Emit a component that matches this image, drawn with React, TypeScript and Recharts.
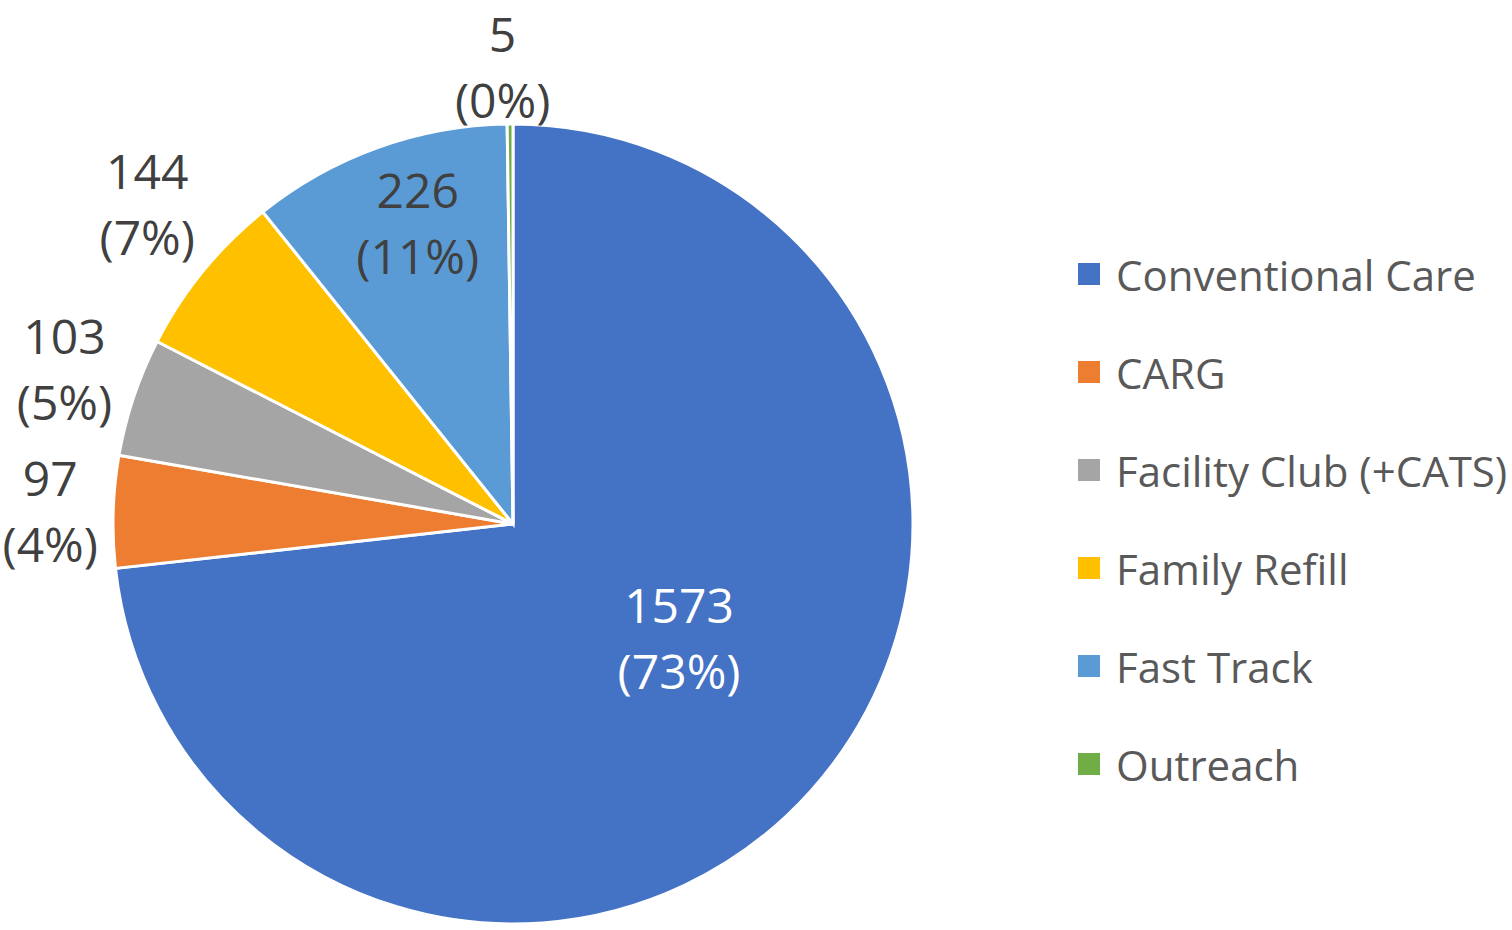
import React from "react";
import { Cell, Legend, Pie, PieChart } from "recharts";

const categories = ["Conventional Care", "CARG", "Facility Club (+CATS)", "Family Refill", "Fast Track", "Outreach"];
const counts = [1573, 97, 103, 144, 226, 5];
const percentLabels = ["73%", "4%", "5%", "7%", "11%", "0%"];
const colors = ["#4472C4", "#ED7D31", "#A5A5A5", "#FFC000", "#5B9BD5", "#70AD47"];

const data = categories.map((name, i) => ({ name, value: counts[i], pct: percentLabels[i] }));

// label placement: distance from centre plus a small nudge, per slice
const labelPlace: Record<string, { r: number; dx: number; dy: number }> = {
  "Conventional Care": { r: 200, dx: 17, dy: -20 },
  CARG: { r: 463, dx: 0, dy: 1 },
  "Facility Club (+CATS)": { r: 473, dx: 0, dy: -5 },
  "Family Refill": { r: 485, dx: 10, dy: -14 },
  "Fast Track": { r: 314, dx: 11, dy: -6 },
  Outreach: { r: 465, dx: -7, dy: 7 },
};

const FONT = "'Open Sans', sans-serif";
const RAD = Math.PI / 180;

function renderLabel(props: any) {
  const { cx, cy, midAngle, index } = props;
  const d = data[index];
  const p = labelPlace[d.name];
  const x = cx + p.r * Math.cos(-midAngle * RAD) + p.dx;
  const y = cy + p.r * Math.sin(-midAngle * RAD) + p.dy;
  const fill = d.name === "Conventional Care" ? "#FFFFFF" : "#404040";
  return (
    <text x={x} y={y} fill={fill} textAnchor="middle" fontFamily={FONT} fontSize={48}>
      <tspan x={x} y={y - 33} dominantBaseline="central">{d.value}</tspan>
      <tspan x={x} y={y + 33} dominantBaseline="central">({d.pct})</tspan>
    </text>
  );
}

function LegendContent() {
  return (
    <div style={{ fontFamily: FONT }}>
      {categories.map((name, i) => (
        <div key={name} style={{ display: "flex", alignItems: "center", height: 98 }}>
          <span style={{ width: 22, height: 22, background: colors[i], display: "inline-block", marginRight: 16, flexShrink: 0 }} />
          <span style={{ fontSize: 42, color: "#595959", whiteSpace: "nowrap" }}>{name}</span>
        </div>
      ))}
    </div>
  );
}

export default function App() {
  return (
    <div style={{ position: "absolute", left: 0, top: 0, background: "#fff" }}>
      <PieChart width={1512} height={930} margin={{ top: 0, right: 0, bottom: 0, left: 0 }}>
        <Pie
          data={data}
          dataKey="value"
          nameKey="name"
          cx={513}
          cy={524}
          outerRadius={400}
          startAngle={90}
          endAngle={-270}
          stroke="#FFFFFF"
          strokeWidth={3}
          label={renderLabel}
          labelLine={false}
          isAnimationActive={false}
        >
          {data.map((d, i) => (
            <Cell key={d.name} fill={colors[i]} />
          ))}
        </Pie>
        <Legend
          layout="vertical"
          content={<LegendContent />}
          wrapperStyle={{ position: "absolute", left: 1078, top: 225, width: 434 }}
        />
      </PieChart>
    </div>
  );
}
